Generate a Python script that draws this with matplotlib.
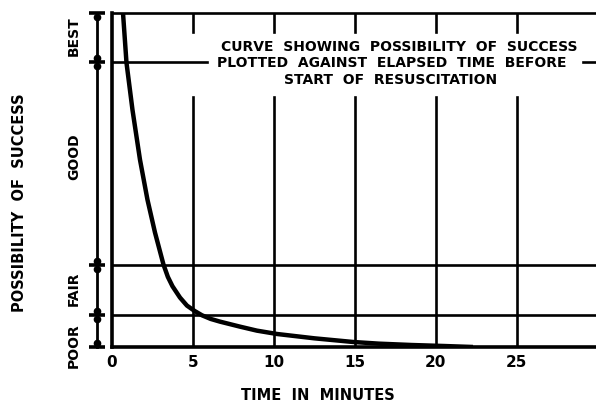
import matplotlib.pyplot as plt
from matplotlib.transforms import blended_transform_factory

minutes = [0.68, 0.895, 1.265, 1.728, 2.191, 2.654, 3.179, 3.45, 3.735, 4.2,
           4.63, 5.1, 5.556, 6.1, 6.667, 7.9, 8.95, 10.19, 12.5, 14.9, 16.5,
           18.5, 20.5, 22.3]
success = [1.0, 0.851, 0.710, 0.561, 0.441, 0.343, 0.247, 0.21, 0.182, 0.148,
           0.124, 0.108, 0.095, 0.084, 0.076, 0.061, 0.049, 0.039, 0.026,
           0.015, 0.010, 0.006, 0.003, 0.0]

# band boundaries and names on the left scale
bounds = [0.0, 0.096, 0.245, 0.853, 1.0]
bands = ["POOR", "FAIR", "GOOD", "BEST"]
band_mid = [0.003, 0.174, 0.569, 0.93]
xticks = [0, 5, 10, 15, 20, 25]

plt.rcParams['font.family'] = 'DejaVu Sans'
plt.rcParams['font.weight'] = 'bold'

fig = plt.figure(figsize=(5.96, 4.05), dpi=100)
ax = fig.add_axes([112/596, 58/405, 1 - 112/596, 334/405])
ax.set_xlim(0, 29.9)
ax.set_ylim(0, 1)
for s in ['top', 'right']:
    ax.spines[s].set_visible(False)
ax.spines['left'].set_linewidth(2.6)
ax.spines['bottom'].set_linewidth(2.6)

lw = 1.9
# top border and band lines
ax.axhline(1.0, color='k', lw=lw, clip_on=False)
for b in bounds[1:3]:
    ax.axhline(b, color='k', lw=lw)
# best/good line is broken by the title block
ax.plot([0, 5.85], [0.853, 0.853], color='k', lw=lw)
ax.plot([29.1, 29.9], [0.853, 0.853], color='k', lw=lw)
# verticals, broken by the title block
for t in xticks[1:]:
    ax.plot([t, t], [0, 0.749], color='k', lw=lw)
    ax.plot([t, t], [0.943, 1.0], color='k', lw=lw)

ax.plot(minutes, success, color='k', lw=3.2, solid_capstyle='butt',
        solid_joinstyle='round')

ax.set_xticks(xticks)
ax.set_xticklabels([str(t) for t in xticks], fontsize=11, fontweight='bold')
ax.tick_params(axis='x', length=0, pad=6)
ax.set_yticks([])

title = ["CURVE  SHOWING  POSSIBILITY  OF  SUCCESS",
         "PLOTTED  AGAINST  ELAPSED  TIME  BEFORE",
         "START  OF  RESUSCITATION"]
title_x = [17.75, 17.3, 17.2]
title_y = [0.899, 0.851, 0.80]
for s, x, y in zip(title, title_x, title_y):
    ax.text(x, y, s, ha='center', va='center', fontsize=10, fontweight='bold')

# bracket scale left of the axis
tr = blended_transform_factory(ax.transAxes, ax.transData)
bx = -0.031
ax.plot([bx, bx], [0, 1], color='k', lw=2, transform=tr, clip_on=False)
ax.plot([bx] * len(bounds), bounds, ls='none', marker='_', ms=11, mew=2.6,
        color='k', transform=tr, clip_on=False)
d = 0.011
dots = [1.0 - d, 0.0 + d]
for b in bounds[1:4]:
    dots += [b - d, b + d]
ax.plot([bx] * len(dots), dots, ls='none', marker='o', ms=4.5, color='k',
        transform=tr, clip_on=False)

for name, y in zip(bands, band_mid):
    ax.text(-0.078, y, name, rotation=90, ha='center', va='center',
            fontsize=10, fontweight='bold', transform=tr)

fig.text(20/596, 1 - 203/405, "POSSIBILITY  OF  SUCCESS", rotation=90,
         ha='center', va='center', fontsize=10.5, fontweight='bold')
fig.text(318/596, 1 - 395/405, "TIME  IN  MINUTES", ha='center', va='center',
         fontsize=10.5, fontweight='bold')

fig.savefig('out.png', dpi=100)
